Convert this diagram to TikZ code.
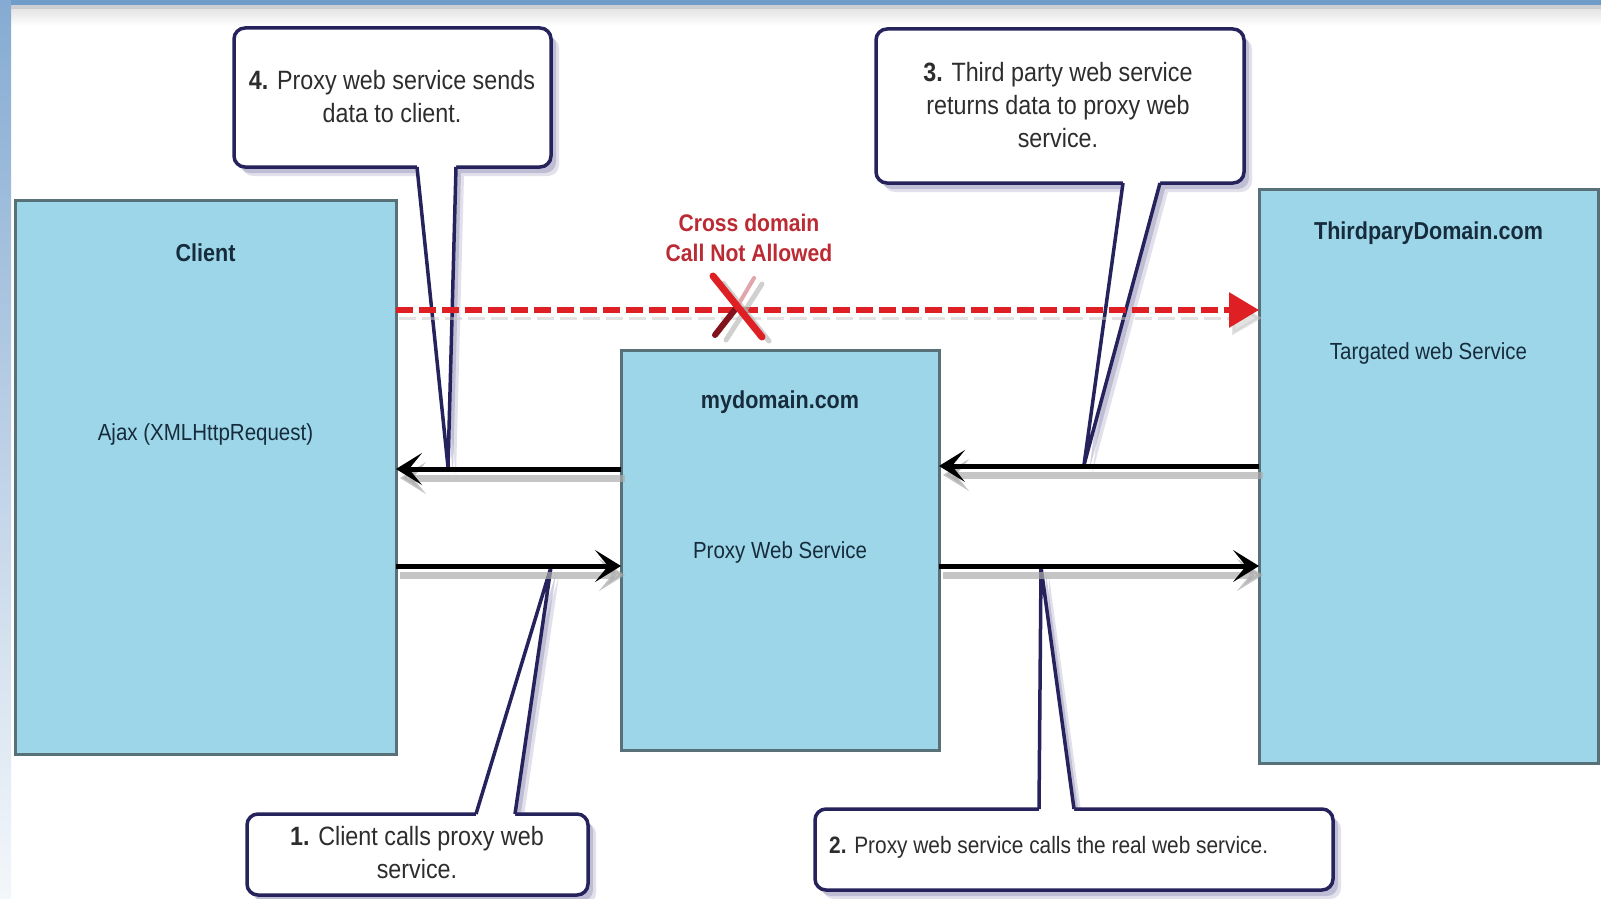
\documentclass[tikz,border=0pt]{standalone}
\usepackage{fontspec}
\setmainfont{Liberation Sans}[FakeStretch=0.88]
\usetikzlibrary{arrows.meta,calc}

\definecolor{boxfill}{RGB}{157,214,232}
\definecolor{boxline}{RGB}{88,112,120}
\definecolor{boxtext}{RGB}{22,44,60}
\definecolor{bubline}{RGB}{38,34,92}
\definecolor{bubshadow}{RGB}{140,136,178}
\definecolor{bubtextcol}{RGB}{45,45,45}
\definecolor{alarm}{RGB}{222,32,36}
\definecolor{alarmtext}{RGB}{188,42,52}
\definecolor{darkalarm}{RGB}{130,18,28}
\definecolor{paleflag}{RGB}{225,165,172}
\definecolor{bandblue}{RGB}{112,156,202}
\definecolor{bandgray}{RGB}{205,206,210}

\tikzset{
  domainbox/.style={draw=boxline, line width=3pt, fill=boxfill, inner sep=0pt, outer sep=0pt, anchor=north west},
  bubble/.style={draw=bubline, line width=3.5pt, fill=white, rounded corners=11pt, inner sep=0pt, outer sep=0pt, anchor=north west},
  bubshade/.style={fill=bubshadow, rounded corners=11pt},
  tailedge/.style={draw=bubline, line width=3.5pt, line join=miter},
  tailfill/.style={fill=white},
  flow/.style={line width=5pt, draw=black, -{Stealth[length=26pt,width=32pt,inset=13pt]}},
  flowshadow/.style={line width=7pt, draw=black!32, opacity=.7, -{Stealth[length=26pt,width=32pt,inset=13pt]},
    transform canvas={xshift=4pt, yshift=-9pt}},
  blocked/.style={line width=6pt, draw=alarm, dash pattern=on 17pt off 6pt, -{Triangle[length=30pt,width=34pt]}},
  blockedshadow/.style={line width=3pt, draw=black!22, opacity=.5, dash pattern=on 17pt off 6pt, -{Triangle[length=30pt,width=34pt]},
    transform canvas={xshift=3pt, yshift=-8pt}},
  titletext/.style={font=\fontsize{24.5}{28}\selectfont\bfseries, text=boxtext, inner sep=0pt},
  bodytext/.style={font=\fontsize{23.3}{28}\selectfont, text=boxtext, inner sep=0pt},
  bubtext/.style={font=\fontsize{26.5}{33}\selectfont, text=bubtextcol, align=center, inner sep=0pt},
  warntext/.style={font=\fontsize{24}{30}\selectfont\bfseries, text=alarmtext, align=center, inner sep=0pt}
}

\begin{document}
\begin{tikzpicture}[x=1pt,y=-1pt]
% page
\useasboundingbox (0,0) rectangle (1601,899);
\fill[white] (0,0) rectangle (1601,899);
\fill[bandblue] (0,0) rectangle (1601,5);
\fill[bandgray] (0,5) rectangle (1601,10);
\shade[top color=black!10, bottom color=white] (0,10) rectangle (1601,26);
\shade[top color=bandblue!85, bottom color=bandblue!8] (0,0) rectangle (11,899);

% domains
\node[domainbox, minimum width=381pt, minimum height=554pt] (client) at (15,200) {};
\node[domainbox, minimum width=318pt, minimum height=400pt] (proxy) at (621,350) {};
\node[domainbox, minimum width=339pt, minimum height=574pt] (third) at (1259,189) {};

\node[titletext] (clientT) at ([yshift=-53pt]client.north) {Client};
\node[bodytext]  (clientB) at ([yshift=-234pt]client.north) {Ajax (XMLHttpRequest)};
\node[titletext] (proxyT)  at ([yshift=-52pt]proxy.north) {mydomain.com};
\node[bodytext]  (proxyB)  at ([yshift=-202pt]proxy.north) {Proxy Web Service};
\node[titletext] (thirdT)  at ([yshift=-44pt]third.north) {ThirdparyDomain.com};
\node[bodytext]  (thirdB)  at ([yshift=-164pt]third.north) {Targated web Service};

% callout shadows
\foreach \dx/\dy/\op in {8/9/.25, 5/6/.4}{
  \begin{scope}[shift={(\dx,\dy)}, opacity=\op]
    \fill[bubshade] (234,28) rectangle (551,167);
    \fill[bubshadow] (417,167) -- (448,467) -- (456,167) -- cycle;
    \fill[bubshade] (876,29) rectangle (1244,183);
    \fill[bubshadow] (1123,183) -- (1084,465) -- (1160,183) -- cycle;
    \fill[bubshade] (247,814) rectangle (588,895);
    \fill[bubshadow] (476,814) -- (551,567) -- (515,814) -- cycle;
    \fill[bubshade] (815,809) rectangle (1333,890);
    \fill[bubshadow] (1039,809) -- (1041,567) -- (1074,809) -- cycle;
  \end{scope}
}

% callout 4
\node[bubble, minimum width=317pt, minimum height=139pt] (b4) at (234,28) {};
\coordinate (tip4) at (448,467);
\fill[tailfill] (417,162) -- (456,162) -- (456,167) -- (tip4) -- (417,167) -- cycle;
\draw[tailedge] (417,167) -- (tip4) -- (456,167);

% callout 3
\node[bubble, minimum width=368pt, minimum height=154pt] (b3) at (876,29) {};
\coordinate (tip3) at (1084,465);
\fill[tailfill] (1123,178) -- (1160,178) -- (1160,183) -- (tip3) -- (1123,183) -- cycle;
\draw[tailedge] (1123,183) -- (tip3) -- (1160,183);

% callout 1
\node[bubble, minimum width=341pt, minimum height=81pt] (b1) at (247,814) {};
\coordinate (tip1) at (551,567);
\fill[tailfill] (476,819) -- (515,819) -- (515,814) -- (tip1) -- (476,814) -- cycle;
\draw[tailedge] (476,814) -- (tip1) -- (515,814);

% callout 2
\node[bubble, minimum width=518pt, minimum height=81pt] (b2) at (815,809) {};
\coordinate (tip2) at (1041,567);
\fill[tailfill] (1039,814) -- (1074,814) -- (1074,809) -- (tip2) -- (1039,809) -- cycle;
\draw[tailedge] (1039,809) -- (tip2) -- (1074,809);

\node[bubtext] (b4txt) at (392,97) {\textbf{4.} Proxy web service sends\\data to client.};
\node[bubtext] (b3txt) at (1058,105) {\textbf{3.} Third party web service\\returns data to proxy web\\service.};
\node[bubtext] (b1txt) at (417,853) {\textbf{1.} Client calls proxy web\\service.};
\node[bubtext, font=\fontsize{23.7}{30}\selectfont, anchor=west] (b2txt) at (829,847) {\textbf{2.} Proxy web service calls the real web service.};

% message flows
\coordinate (pU) at ([yshift=-119pt]proxy.north west);
\coordinate (cD) at ([yshift=-366pt]client.north east);
\coordinate (tU) at ([yshift=-277pt]third.north west);
\coordinate (pD) at ([yshift=-216pt]proxy.north east);
\coordinate (cR) at ([yshift=-110pt]client.north east);

\draw[flowshadow] (pU) -- (pU -| client.east);
\draw[flowshadow] (cD) -- (cD -| proxy.west);
\draw[flowshadow] (tU) -- (tU -| proxy.east);
\draw[flowshadow] (pD) -- (pD -| third.west);
\draw[flow] (pU) -- (pU -| client.east);
\draw[flow] (cD) -- (cD -| proxy.west);
\draw[flow] (tU) -- (tU -| proxy.east);
\draw[flow] (pD) -- (pD -| third.west);

% blocked direct call
\draw[blockedshadow] (cR) -- (cR -| third.west);
\draw[blocked] (cR) -- (cR -| third.west);

\coordinate (xm) at (737,307);
\begin{scope}[line cap=round]
  \draw[black!30, opacity=.6, line width=5pt] ([shift={(8,4)}]xm) ++(-22,-28) -- ++(46,58);
  \draw[black!30, opacity=.6, line width=5pt] ([shift={(8,4)}]xm) ++(17,-27) -- ++(-36,56);
  \draw[paleflag, line width=4pt] ($(xm)+(17,-29)$) -- ($(xm)+(0,0)$);
  \draw[darkalarm, line width=6pt] ($(xm)+(0,0)$) -- ($(xm)+(-22,28)$);
  \draw[alarm, line width=7pt] ($(xm)+(-24,-31)$) -- ($(xm)+(25,30)$);
\end{scope}

\node[warntext] (warn) at (749,238) {Cross domain\\Call Not Allowed};
\end{tikzpicture}
\end{document}
